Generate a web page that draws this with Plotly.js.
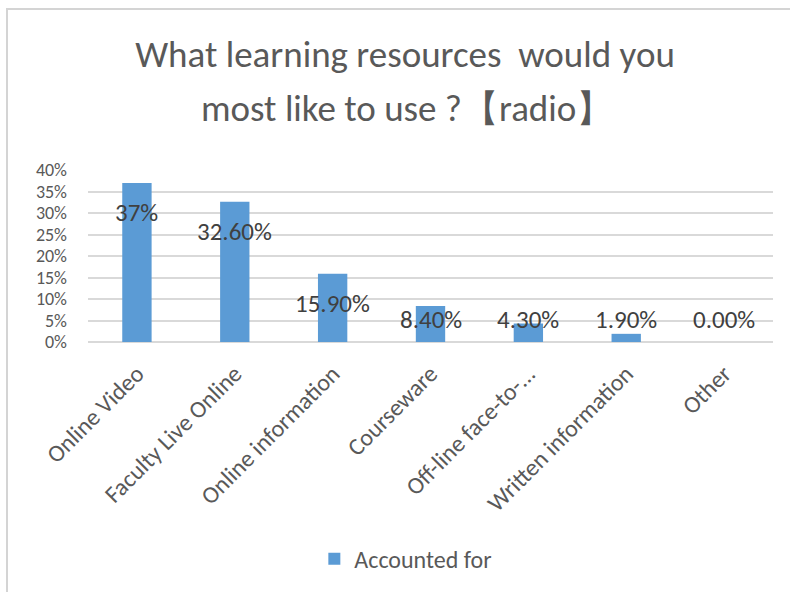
<!DOCTYPE html>
<html>
<head>
<meta charset="utf-8">
<script src="https://cdn.plot.ly/plotly-3.0.1.min.js"></script>
<style>
  html, body { margin: 0; padding: 0; background: #ffffff; }
  #wrap { position: relative; width: 790px; height: 592px; overflow: hidden; }
  #chart { position: absolute; left: 0; top: 0; width: 790px; height: 592px; }
  #bt { position: absolute; left: 6px; top: 8px; width: 784px; height: 2px; background: #d4d4d4; }
  #bl { position: absolute; left: 6px; top: 8px; width: 2px; height: 584px; background: #d4d4d4; }
</style>
</head>
<body>
<div id="wrap">
  <div id="chart"></div>
  <div id="bt"></div>
  <div id="bl"></div>
</div>
<script>
const categories = ["Online Video", "Faculty Live Online", "Online information", "Courseware", "Off-line face-to-...", "Written information", "Other"];
const values = [0.37, 0.326, 0.159, 0.084, 0.043, 0.019, 0.0];
const valueLabels = ["37%", "32.60%", "15.90%", "8.40%", "4.30%", "1.90%", "0.00%"];
const yTickVals = [0, 0.05, 0.10, 0.15, 0.20, 0.25, 0.30, 0.35, 0.40];
const yTickText = ["0%", "5%", "10%", "15%", "20%", "25%", "30%", "35%", "40%"];
const seriesName = "Accounted for";
const titleLine1 = "What learning resources  would you";
const titleLine2 = "most like to use ?【radio】";

const FONT = "Carlito, Lato, 'Noto Sans', sans-serif";

const trace = {
  type: "bar",
  x: categories,
  y: values,
  name: seriesName,
  marker: { color: "#5b9bd5" },
  hoverinfo: "skip",
  showlegend: true
};

const labelAnns = categories.map((c, i) => ({
  x: c,
  y: Math.max(values[i] - 0.069, 0.053),
  xref: "x", yref: "y",
  text: valueLabels[i],
  showarrow: false,
  xanchor: "center", yanchor: "middle",
  font: { family: FONT, size: 25, color: "#404040" }
}));

const layout = {
  width: 790, height: 592,
  margin: { l: 88, r: 17, t: 170, b: 249 },
  paper_bgcolor: "#ffffff",
  plot_bgcolor: "#ffffff",
  font: { family: FONT, color: "#595959" },
  title: {
    text: titleLine1,
    font: { family: FONT, size: 37, color: "#595959" },
    xref: "container", yref: "container",
    x: 0.5127, y: 0.909, xanchor: "center", yanchor: "middle"
  },
  bargap: 0.7,
  xaxis: {
    type: "category",
    tickangle: -45,
    tickfont: { family: FONT, size: 24, color: "#595959" },
    showgrid: false,
    showline: false,
    ticks: "",
    ticklabelstandoff: 12,
    fixedrange: true
  },
  yaxis: {
    range: [0, 0.4],
    tickvals: yTickVals,
    ticktext: yTickText,
    tickfont: { family: FONT, size: 18, color: "#595959" },
    showgrid: true,
    gridcolor: "#d9d9d9",
    gridwidth: 2,
    zeroline: true,
    zerolinecolor: "#d9d9d9",
    zerolinewidth: 2,
    showline: false,
    ticks: "",
    ticklabelstandoff: 20,
    fixedrange: true
  },
  showlegend: true,
  legend: {
    orientation: "h",
    xref: "paper", yref: "paper",
    x: 0.464, y: -1.249,
    xanchor: "center", yanchor: "middle",
    font: { family: FONT, size: 24, color: "#595959" },
    itemwidth: 30
  },
  annotations: labelAnns.concat([{
    text: titleLine2,
    xref: "paper", yref: "paper",
    x: 0.465, y: 1.36,
    xanchor: "center", yanchor: "middle",
    showarrow: false,
    font: { family: FONT, size: 37, color: "#595959" }
  }])
};

Plotly.newPlot("chart", [trace], layout, { displayModeBar: false, staticPlot: true });
</script>
</body>
</html>
